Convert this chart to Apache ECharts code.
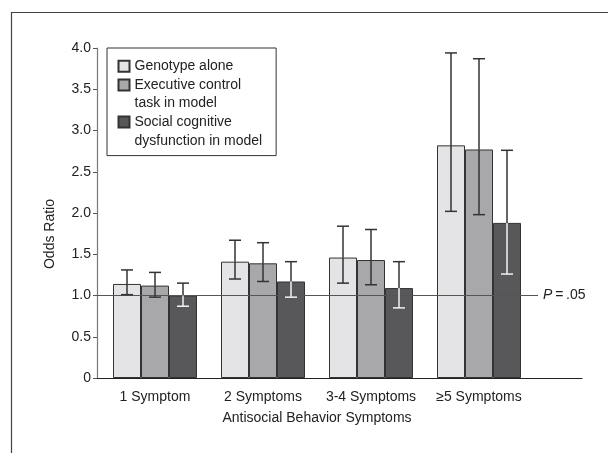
<!DOCTYPE html>
<html>
<head>
<meta charset="utf-8">
<script src="https://cdn.jsdelivr.net/npm/echarts@6/dist/echarts.min.js"></script>
<style>
html,body{margin:0;padding:0;background:#fff;}
#chart{width:608px;height:453px;}
</style>
</head>
<body>
<div id="chart"></div>
<script>
const categories = ['1 Symptom', '2 Symptoms', '3-4 Symptoms', '\u22655 Symptoms'];
const seriesNames = ['Genotype alone', 'Executive control\ntask in model', 'Social cognitive\ndysfunction in model'];
const genotype = [1.14, 1.41, 1.46, 2.82];
const genotypeLow = [1.01, 1.20, 1.15, 2.02];
const genotypeHigh = [1.31, 1.67, 1.84, 3.94];
const executive = [1.12, 1.39, 1.43, 2.77];
const executiveLow = [0.98, 1.17, 1.13, 1.98];
const executiveHigh = [1.28, 1.64, 1.80, 3.87];
const social = [1.00, 1.17, 1.09, 1.88];
const socialLow = [0.87, 0.98, 0.85, 1.26];
const socialHigh = [1.15, 1.41, 1.41, 2.76];
const pThreshold = 1.0;
const yTickValues = [0, 0.5, 1, 1.5, 2, 2.5, 3, 3.5, 4];

const FONT = 'Liberation Sans, Arial, sans-serif';
const TXT = '#222';
const colors = ['#e4e4e6', '#a8a8ab', '#58585b'];
const BAR_W = 28;

const chart = echarts.init(document.getElementById('chart'), null, {renderer: 'canvas'});

function errData(vals, lo, hi) {
  return vals.map((v, i) => [i, lo[i], hi[i], v]);
}
function makeErrRender(offset, insideColor) {
  return function (params, api) {
    const c = api.value(0), lo = api.value(1), hi = api.value(2), v = api.value(3);
    const pHi = api.coord([c, hi]);
    const pLo = api.coord([c, lo]);
    const pV = api.coord([c, v]);
    const x = pHi[0] + offset;
    const yHi = pHi[1], yLo = pLo[1], yBar = pV[1];
    const dark = '#333';
    const cap = 6;
    const lw = 1.5;
    const ch = [];
    ch.push({type: 'line', shape: {x1: x, y1: yHi, x2: x, y2: Math.min(yBar, yLo)}, style: {stroke: dark, lineWidth: lw}});
    if (yLo > yBar) {
      ch.push({type: 'line', shape: {x1: x, y1: yBar, x2: x, y2: yLo}, style: {stroke: insideColor, lineWidth: lw}});
    }
    ch.push({type: 'line', shape: {x1: x - cap, y1: yHi, x2: x + cap, y2: yHi}, style: {stroke: yHi < yBar ? dark : insideColor, lineWidth: lw}});
    ch.push({type: 'line', shape: {x1: x - cap, y1: yLo, x2: x + cap, y2: yLo}, style: {stroke: yLo > yBar ? insideColor : dark, lineWidth: lw}});
    return {type: 'group', children: ch};
  };
}

const barBase = {
  type: 'bar', xAxisIndex: 0, yAxisIndex: 0, barWidth: BAR_W, barGap: '0%',
  emphasis: {disabled: true}, animation: false
};

const option = {
  animation: false,
  textStyle: {fontFamily: FONT},
  graphic: [{
    type: 'rect', left: 9, top: 10, shape: {x: 0, y: 0, width: 700, height: 600},
    style: {fill: 'none', stroke: '#444', lineWidth: 1.2}, silent: true, z: 0
  }],
  legend: {
    left: 107, top: 48,
    orient: 'vertical',
    icon: 'rect',
    itemWidth: 11, itemHeight: 11,
    itemGap: -18.6,
    padding: [9, 14, 5.6, 10.5],
    borderColor: '#333', borderWidth: 1,
    backgroundColor: '#fff',
    selectedMode: false,
    formatter: function (name) { return name.indexOf('\n') >= 0 ? '\n' + name : name; },
    textStyle: {fontFamily: FONT, fontSize: 14, color: TXT, lineHeight: 18.6},
    data: seriesNames,
    z: 10
  },
  grid: [
    {left: 101, width: 432, top: 48, height: 330},
    {left: 97, width: 485, top: 48, height: 330},
    {left: 97, width: 441, top: 48, height: 330}
  ],
  xAxis: [
    {
      type: 'category', gridIndex: 0, data: categories,
      axisLine: {show: false}, axisTick: {show: false},
      axisLabel: {fontFamily: FONT, fontSize: 14, color: TXT, margin: 12, interval: 0},
      name: 'Antisocial Behavior Symptoms', nameLocation: 'middle', nameGap: 33,
      nameTextStyle: {fontFamily: FONT, fontSize: 14, color: TXT}
    },
    {
      type: 'value', gridIndex: 1, min: 0, max: 1,
      axisLine: {show: true, lineStyle: {color: '#222', width: 1.2}},
      axisTick: {show: false}, axisLabel: {show: false}, splitLine: {show: false}
    },
    {
      type: 'value', gridIndex: 2, min: 0, max: 1, show: false
    }
  ],
  yAxis: [
    {type: 'value', gridIndex: 0, min: 0, max: 4, interval: 0.5, show: false},
    {
      type: 'value', gridIndex: 1, min: 0, max: 4, interval: 0.5,
      axisLine: {show: true, lineStyle: {color: '#777', width: 1.2}},
      axisTick: {show: true, inside: false, length: 4, lineStyle: {color: '#555'}},
      splitLine: {show: false},
      axisLabel: {
        fontFamily: FONT, fontSize: 14, color: TXT, margin: 6,
        formatter: function (v) { return yTickValues.indexOf(v) >= 0 ? (v === 0 ? '0' : v.toFixed(1)) : ''; }
      },
      name: 'Odds Ratio', nameLocation: 'middle', nameGap: 40,
      nameTextStyle: {fontFamily: FONT, fontSize: 14, color: TXT, padding: [0, 42, 0, 0]}
    },
    {type: 'value', gridIndex: 2, min: 0, max: 4, show: false}
  ],
  series: [
    Object.assign({}, barBase, {name: seriesNames[0], data: genotype, itemStyle: {color: colors[0], borderColor: '#333', borderWidth: 1}, z: 2}),
    Object.assign({}, barBase, {name: seriesNames[1], data: executive, itemStyle: {color: colors[1], borderColor: '#333', borderWidth: 1}, z: 2}),
    Object.assign({}, barBase, {name: seriesNames[2], data: social, itemStyle: {color: colors[2], borderColor: '#333', borderWidth: 1}, z: 2}),
    {
      type: 'line', xAxisIndex: 2, yAxisIndex: 2, name: 'P threshold',
      data: [[0, pThreshold], [1, pThreshold]],
      symbol: 'none', silent: true, z: 3,
      lineStyle: {color: '#555', width: 1.2},
      endLabel: {
        show: true, distance: 5,
        formatter: '{i|P}\u2009=\u2009.05',
        color: TXT, fontFamily: FONT, fontSize: 14,
        rich: {i: {fontStyle: 'italic', fontFamily: FONT, fontSize: 14, color: TXT}}
      }
    },
    {type: 'custom', xAxisIndex: 0, yAxisIndex: 0, data: errData(genotype, genotypeLow, genotypeHigh), renderItem: makeErrRender(-BAR_W, '#333'), encode: {x: 0, y: [1, 2]}, z: 4, silent: true},
    {type: 'custom', xAxisIndex: 0, yAxisIndex: 0, data: errData(executive, executiveLow, executiveHigh), renderItem: makeErrRender(0, '#333'), encode: {x: 0, y: [1, 2]}, z: 4, silent: true},
    {type: 'custom', xAxisIndex: 0, yAxisIndex: 0, data: errData(social, socialLow, socialHigh), renderItem: makeErrRender(BAR_W, '#f2f2f2'), encode: {x: 0, y: [1, 2]}, z: 4, silent: true}
  ]
};
chart.setOption(option);
</script>
</body>
</html>
